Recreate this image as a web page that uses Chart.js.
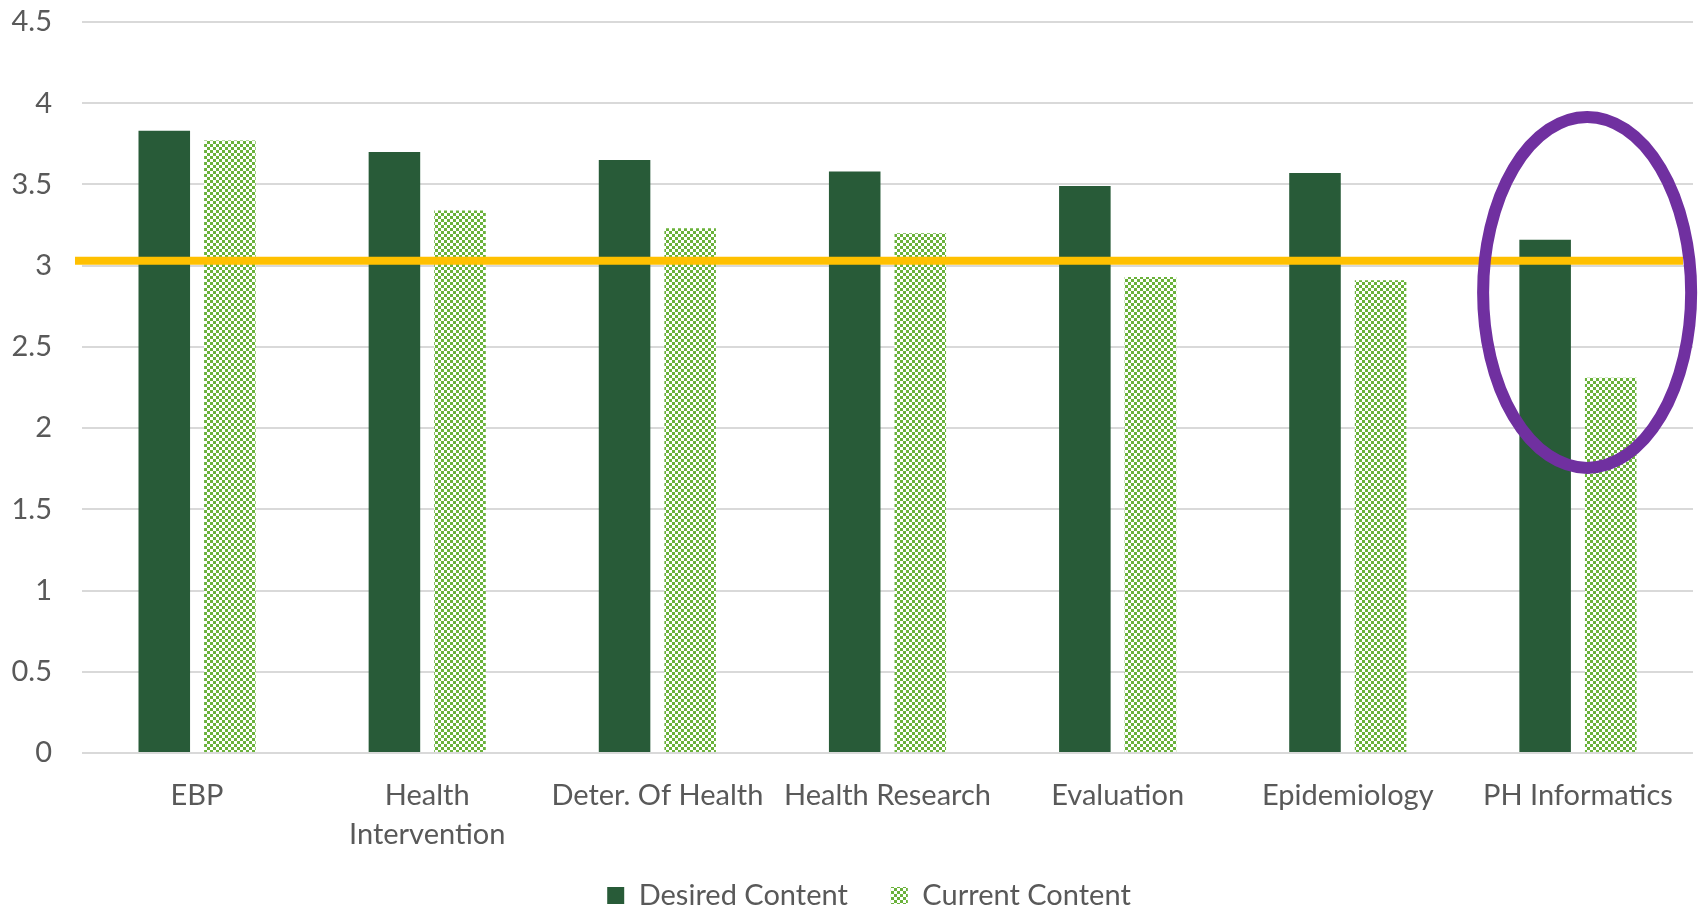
<!DOCTYPE html>
<html>
<head>
<meta charset="utf-8">
<script src="https://cdn.jsdelivr.net/npm/chart.js@4"></script>
<style>
  html, body { margin: 0; padding: 0; background: #fff; }
  #wrap { width: 1698px; height: 913px; }
</style>
</head>
<body>
<div id="wrap"><canvas id="myChart"></canvas></div>
<script>
var categories = ["EBP", ["Health", "Intervention"], "Deter. Of Health", "Health Research", "Evaluation", "Epidemiology", "PH Informatics"];
var desiredContent = [3.83, 3.70, 3.65, 3.58, 3.49, 3.57, 3.16];
var currentContent = [3.77, 3.34, 3.23, 3.20, 2.93, 2.91, 2.31];
var yTicks = [0, 0.5, 1, 1.5, 2, 2.5, 3, 3.5, 4, 4.5];
var targetLevel = 3.03;

// checker pattern for the "current" bars
function checkerPattern(color) {
  var c = document.createElement("canvas");
  c.width = 6;
  c.height = 6;
  var p = c.getContext("2d");
  p.fillStyle = "#ffffff";
  p.fillRect(0, 0, 6, 6);
  p.fillStyle = color;
  p.fillRect(0, 0, 3, 3);
  p.fillRect(3, 3, 3, 3);
  return p.createPattern(c, "repeat");
}

// gold target line + purple ring round the last category
var annotations = {
  id: "annotations",
  afterLayout: function (chart) {
    // legend sits a little right of centre in the original
    chart.legend.left += 45;
    // let the two-line x label run past the axis box
    chart.scales.x.bottom = chart.height;
  },
  afterDatasetsDraw: function (chart) {
    var ctx = chart.ctx;
    var x = chart.scales.x;
    var y = chart.scales.y;
    var area = chart.chartArea;
    ctx.save();
    var ly = y.getPixelForValue(targetLevel);
    ctx.strokeStyle = "#FFC000";
    ctx.lineWidth = 8;
    ctx.beginPath();
    ctx.moveTo(area.left - 7, ly);
    ctx.lineTo(area.right - 10, ly);
    ctx.stroke();

    var step = x.getPixelForValue(1) - x.getPixelForValue(0);
    var cx = x.getPixelForValue(categories.length - 1) + step * 0.04;
    var cy = y.getPixelForValue(2.835);
    var ry = y.getPixelForValue(0) - y.getPixelForValue(1.08);
    ctx.strokeStyle = "#7030A0";
    ctx.lineWidth = 12;
    ctx.beginPath();
    ctx.ellipse(cx, cy, step * 0.452, ry, 0, 0, Math.PI * 2);
    ctx.stroke();
    ctx.restore();
  }
};

var font = { family: "Lato", size: 29 };

var ctx = document.getElementById("myChart").getContext("2d");
var myChart = new Chart(ctx, {
  type: "bar",
  data: {
    labels: categories,
    datasets: [
      {
        label: "Desired Content",
        data: desiredContent,
        backgroundColor: "#285B38",
        categoryPercentage: 0.57,
        barPercentage: 0.786
      },
      {
        label: "Current Content",
        data: currentContent,
        backgroundColor: checkerPattern("#6AB23A"),
        categoryPercentage: 0.57,
        barPercentage: 0.786
      }
    ]
  },
  options: {
    responsive: true,
    maintainAspectRatio: false,
    animation: false,
    layout: { padding: { top: 22, right: 5, left: 0, bottom: -7 } },
    plugins: {
      tooltip: { enabled: false },
      legend: {
        position: "bottom",
        labels: {
          color: "#595959",
          font: font,
          boxWidth: 17,
          boxHeight: 17,
          padding: 43
        }
      }
    },
    scales: {
      x: {
        grid: { display: false, drawTicks: false },
        border: { display: false },
        ticks: {
          color: "#595959",
          font: { family: "Lato", size: 29, lineHeight: 1.35 },
          padding: 23,
          maxRotation: 0,
          autoSkip: false
        },
        afterFit: function (s) { s.height = 85; }
      },
      y: {
        min: 0,
        max: 4.5,
        afterBuildTicks: function (s) {
          s.ticks = yTicks.map(function (v) { return { value: v }; });
        },
        grid: { color: "#D9D9D9", lineWidth: 2, drawTicks: false },
        border: { display: false },
        ticks: {
          color: "#595959",
          font: font,
          padding: 30,
          callback: function (v) { return String(v); }
        },
        afterFit: function (s) {
          s.width = 82;
          s.paddingTop = 0;
          s.paddingBottom = 0;
        }
      }
    }
  },
  plugins: [annotations]
});
</script>
</body>
</html>
